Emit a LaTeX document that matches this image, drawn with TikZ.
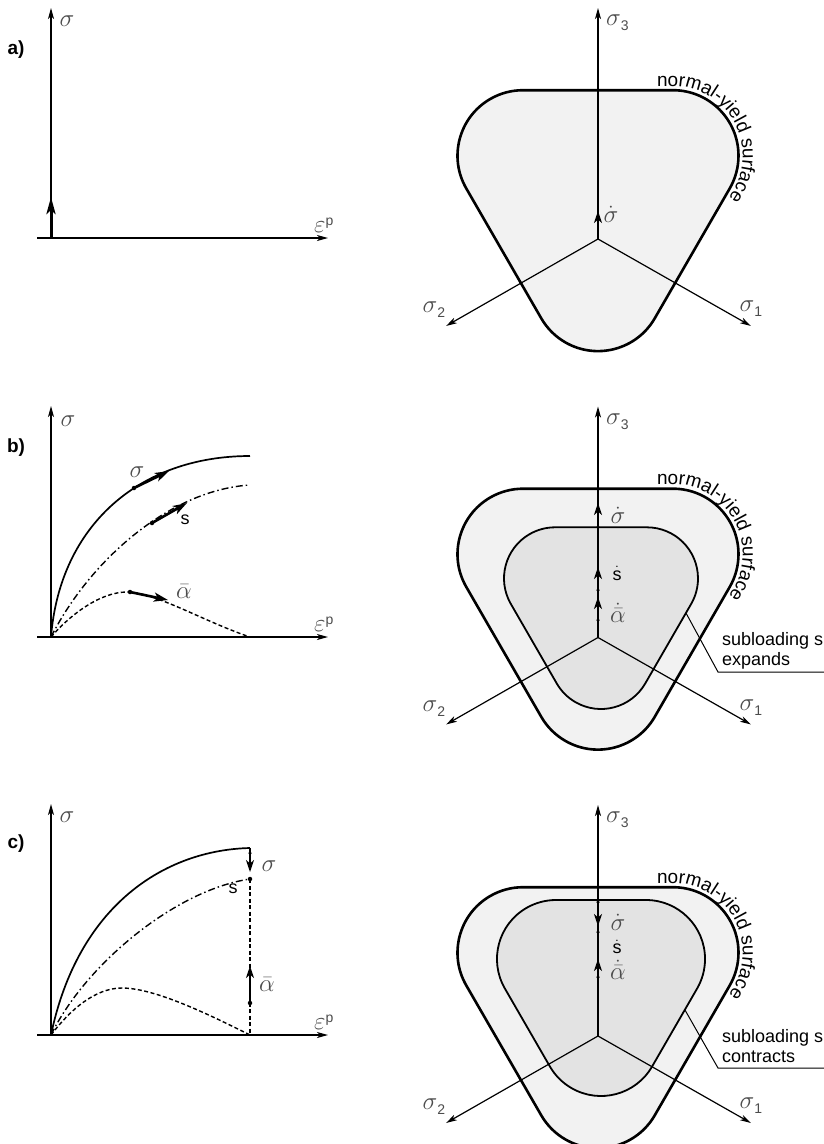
\documentclass[tikz,border=0pt]{standalone}
\usepackage{fontspec}
\setsansfont{Liberation Sans}
\usetikzlibrary{arrows.meta,decorations.text}

% rounded triangle: centre x, centre y, inner inradius r0, corner radius R
\newcommand{\yieldtri}[4]{({#1-1.732*#3},{#2+#3+#4}) -- ({#1+1.732*#3},{#2+#3+#4}) arc[start angle=90,end angle=-30,radius=#4] -- ({#1+0.866*#4},{#2-2*#3-0.5*#4}) arc[start angle=-30,end angle=-150,radius=#4] -- ({#1-1.732*#3-0.866*#4},{#2+#3-0.5*#4}) arc[start angle=210,end angle=90,radius=#4] -- cycle}
\newcommand{\subsf}[1]{\raisebox{-5pt}{\sffamily\fontsize{14}{14}\selectfont #1}}
\newcommand{\supsf}[1]{\raisebox{7pt}{\sffamily\fontsize{14}{14}\selectfont #1}}

\tikzset{
 axis/.style={line width=1.2pt,-{Stealth[length=11pt,width=6pt,inset=3pt]}},
 rate/.style={line width=2.6pt,-{Stealth[length=14pt,width=9pt,inset=3.5pt]}},
 rrate/.style={line width=2pt,-{Stealth[length=12pt,width=8pt,inset=3.5pt]}},
 curve/.style={line width=1.7pt},
 dashdot/.style={line width=1.4pt,dash pattern=on 7pt off 3pt on 1.5pt off 3pt},
 dashcurve/.style={line width=1.4pt,dash pattern=on 4pt off 2.5pt},
 outersurf/.style={fill=black!5, draw=black, line width=2.6pt},
 innersurf/.style={fill=black!11, draw=black, line width=1.8pt},
 lab/.style={inner sep=0pt, text=black!70, font=\fontsize{24}{26}\selectfont},
 slab/.style={inner sep=0pt, font=\sffamily\fontsize{18}{20}\selectfont},
 plab/.style={inner sep=0pt, font=\sffamily\bfseries\fontsize{19}{20}\selectfont},
 dot/.style={circle, fill=black, inner sep=0pt, minimum size=4.5pt},
 sdot/.style={circle, fill=black, inner sep=0pt, minimum size=3.5pt},
 leader/.style={line width=1pt},
 yieldtext/.style={decorate,decoration={text along path,text={|\sffamily\fontsize{19}{19}\selectfont|normal-yield surface}}},
}

\begin{document}
\begin{tikzpicture}[x=1pt,y=1pt]
\useasboundingbox (0,0) rectangle (824,-1144);
\clip (0,0) rectangle (824,-1144);

% ================= PANEL A LEFT =================
\node[plab] (alab) at (16,-50) {a)};
\coordinate (aO) at (51,-238);
\coordinate (aYt) at (51,-8);
\coordinate (aXl) at (37,-238);
\coordinate (aXr) at (328,-238);
\coordinate (aRt) at (51,-197);
\draw[axis] (aO) -- (aYt);
\draw[axis] (aXl) -- (aXr);
\node[lab] (asig) at (67,-21) {$\sigma$};
\node[lab,anchor=west] (aeps) at (314,-225) {$\varepsilon$\supsf{p}};
\draw[rate,line width=3pt,-{Stealth[length=17pt,width=9pt,inset=4pt]}] (aO) -- (aRt);

% ================= PANEL B LEFT =================
\node[plab] (blab) at (16,-448) {b)};
\coordinate (bO) at (51,-637);
\coordinate (bYt) at (51,-406);
\coordinate (bXl) at (37,-637);
\coordinate (bXr) at (328,-637);
\draw[axis] (bO) -- (bYt);
\draw[axis] (bXl) -- (bXr);
\node[lab] (bsig) at (68,-421) {$\sigma$};
\node[lab,anchor=west] (beps) at (314,-624) {$\varepsilon$\supsf{p}};
\draw[curve] (bO) .. controls (60,-525) and (140,-456) .. (250,-456);
\draw[dashdot] (bO) .. controls (90,-560) and (170,-490) .. (250,-485);
\draw[dashcurve] (bO) .. controls (70,-615) and (100,-592) .. (127,-592) .. controls (155,-592) and (205,-622) .. (250,-637);
\node[dot] (bd1) at (134,-488) {};
\coordinate (bt1) at (169,-471);
\draw[rate] (bd1.center) -- (bt1);
\node[lab] (bl1) at (137,-472) {$\sigma$};
\node[dot] (bd2) at (152,-523) {};
\coordinate (bt2) at (187,-503);
\draw[rate] (bd2.center) -- (bt2);
\node[slab] (bl2) at (185,-520) {s};
\node[dot] (bd3) at (130,-592) {};
\coordinate (bt3) at (168,-600);
\draw[rate] (bd3.center) -- (bt3);
\node[lab] (bl3) at (184,-592) {$\bar{\alpha}$};

% ================= PANEL C LEFT =================
\node[plab] (clab) at (16,-844) {c)};
\coordinate (cO) at (51,-1035);
\coordinate (cYt) at (51,-804);
\coordinate (cXl) at (37,-1035);
\coordinate (cXr) at (328,-1035);
\draw[axis] (cO) -- (cYt);
\draw[axis] (cXl) -- (cXr);
\node[lab] (csig) at (67,-817) {$\sigma$};
\node[lab,anchor=west] (ceps) at (314,-1022) {$\varepsilon$\supsf{p}};
\draw[curve] (cO) .. controls (78,-905) and (165,-850) .. (250,-848) coordinate (cE1);
\draw[dashdot] (cO) .. controls (85,-965) and (175,-890) .. (250,-879);
\draw[dashcurve] (cO) .. controls (70,-1010) and (95,-988) .. (122,-988) .. controls (155,-988) and (210,-1015) .. (250,-1035) coordinate (cE3);
\node[sdot] (cd0) at (250,-853) {};
\coordinate (ct1) at (250,-872);
\draw[line width=1.7pt] (cE1) -- (cd0.center);
\draw[rrate,line width=1.6pt] (cd0.center) -- (ct1);
\node[lab] (cl1) at (269,-866) {$\sigma$};
\node[dot] (cd2) at (250,-879) {};
\draw[dashcurve] (cd2.center) -- (cE3);
\node[slab] (cl2) at (233,-889) {s};
\node[dot] (cd3) at (250,-1003) {};
\coordinate (ct3) at (250,-966);
\draw[rrate] (cd3.center) -- (ct3);
\node[lab] (cl3) at (267,-985) {$\bar{\alpha}$};

% ================= PANEL A RIGHT =================
\begin{scope}
\filldraw[outersurf] \yieldtri{598}{-199}{43.3}{65.5};
\path[yieldtext] (657,-86) -- (673,-86) arc[start angle=90,end angle=-90,radius=69.7];
\coordinate (raC) at (598,-239);
\coordinate (ra3) at (598,-8);
\coordinate (ra2) at (446,-326);
\coordinate (ra1) at (751,-326);
\draw[axis] (raC) -- (ra3);
\draw[axis] (raC) -- (ra2);
\draw[axis] (raC) -- (ra1);
\node[lab,anchor=west] (ral3) at (606,-23) {$\sigma$\subsf{3}};
\node[lab] (ral2) at (434,-310) {$\sigma$\subsf{2}};
\node[lab] (ral1) at (751,-309) {$\sigma$\subsf{1}};
\coordinate (rat) at (598,-211);
\draw[rrate] (raC) -- (rat);
\node[lab] (ralsd) at (611,-214) {$\dot{\sigma}$};
\end{scope}

% ================= PANEL B RIGHT =================
\begin{scope}[yshift=-398.5pt]
\filldraw[outersurf] \yieldtri{598}{-199}{43.3}{65.5};
\filldraw[innersurf] \yieldtri{601}{-206.4}{26.5}{51.1};
\path[yieldtext] (657,-86) -- (673,-86) arc[start angle=90,end angle=-90,radius=69.7];
\coordinate (rbC) at (598,-239);
\coordinate (rb3) at (598,-8);
\coordinate (rb2) at (446,-326);
\coordinate (rb1) at (751,-326);
\draw[axis] (rbC) -- (rb3);
\draw[axis] (rbC) -- (rb2);
\draw[axis] (rbC) -- (rb1);
\node[lab,anchor=west] (rbl3) at (606,-23) {$\sigma$\subsf{3}};
\node[lab] (rbl2) at (434,-310) {$\sigma$\subsf{2}};
\node[lab] (rbl1) at (751,-309) {$\sigma$\subsf{1}};
\node[sdot] (rbd1) at (598,-128.5) {};
\coordinate (rbt1) at (598,-104.5);
\draw[rrate] (rbd1.center) -- (rbt1);
\node[lab] (rbls1) at (618,-117) {$\dot{\sigma}$};
\node[sdot] (rbd2) at (598,-191.5) {};
\coordinate (rbt2) at (598,-168.5);
\draw[rrate] (rbd2.center) -- (rbt2);
\node[slab] (rbls2) at (617,-175) {$\dot{\textsf{s}}$};
\node[sdot] (rbd3) at (598,-221.5) {};
\coordinate (rbt3) at (598,-198.5);
\draw[rrate] (rbd3.center) -- (rbt3);
\node[lab] (rbls3) at (618,-214) {$\dot{\bar{\alpha}}$};
\coordinate (rbk0) at (686,-214.5);
\coordinate (rbk1) at (718,-273.5);
\coordinate (rbk2) at (830,-273.5);
\draw[leader] (rbk0) -- (rbk1) -- (rbk2);
\node[slab,anchor=north west,align=left] (rbtxt) at (722,-233.5) {subloading surface\\expands};
\end{scope}

% ================= PANEL C RIGHT =================
\begin{scope}[yshift=-797pt]
\filldraw[outersurf] \yieldtri{598}{-199}{43.3}{65.5};
\filldraw[innersurf] \yieldtri{601}{-188}{26}{59};
\path[yieldtext] (657,-86) -- (673,-86) arc[start angle=90,end angle=-90,radius=69.7];
\coordinate (rcC) at (598,-239);
\coordinate (rc3) at (598,-8);
\coordinate (rc2) at (446,-326);
\coordinate (rc1) at (751,-326);
\draw[axis] (rcC) -- (rc3);
\draw[axis] (rcC) -- (rc2);
\draw[axis] (rcC) -- (rc1);
\node[lab,anchor=west] (rcl3) at (606,-23) {$\sigma$\subsf{3}};
\node[lab] (rcl2) at (434,-310) {$\sigma$\subsf{2}};
\node[lab] (rcl1) at (751,-309) {$\sigma$\subsf{1}};
\node[sdot] (rcd1) at (598,-105) {};
\coordinate (rct1) at (598,-129);
\draw[rrate] (rcd1.center) -- (rct1);
\node[sdot] (rcd1b) at (598,-135) {};
\node[lab] (rcls1) at (618,-125) {$\dot{\sigma}$};
\node[slab] (rcls2) at (617,-150) {$\dot{\textsf{s}}$};
\node[sdot] (rcd3) at (598,-180) {};
\coordinate (rct3) at (598,-162);
\draw[rrate] (rcd3.center) -- (rct3);
\node[lab] (rcls3) at (618,-173) {$\dot{\bar{\alpha}}$};
\coordinate (rck0) at (685,-213);
\coordinate (rck1) at (718,-271);
\coordinate (rck2) at (830,-271);
\draw[leader] (rck0) -- (rck1) -- (rck2);
\node[slab,anchor=north west,align=left] (rctxt) at (722,-232) {subloading surface\\contracts};
\end{scope}
\end{tikzpicture}
\end{document}
